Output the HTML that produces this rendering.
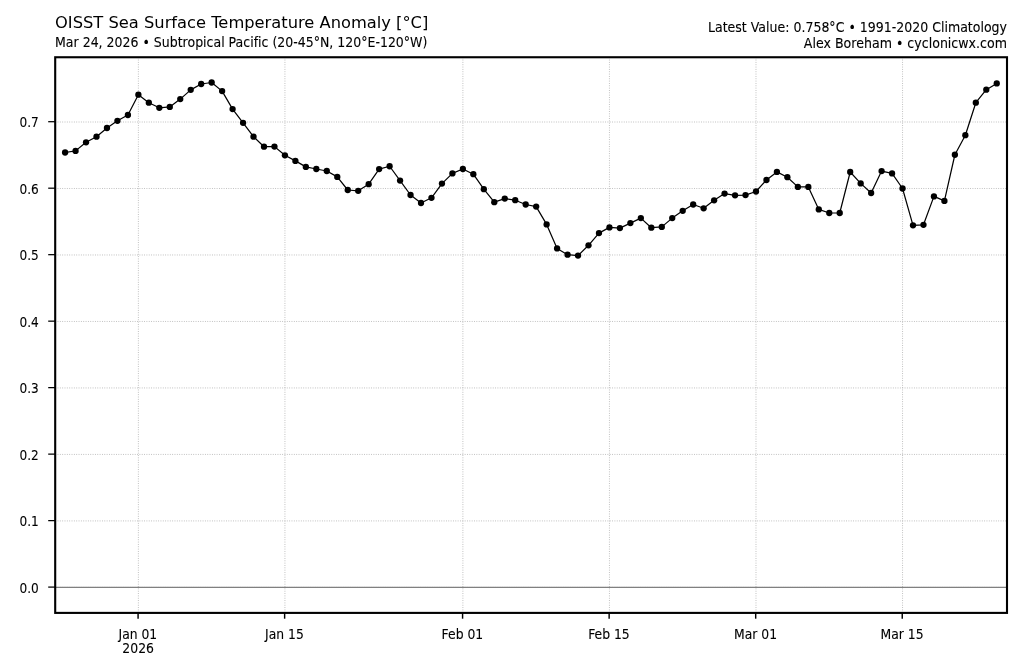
<!DOCTYPE html>
<html lang="en"><head><meta charset="utf-8"><title>OISST Sea Surface Temperature Anomaly</title>
<style>html,body{margin:0;padding:0;background:#fff;}svg{display:block;}text{font-family:"DejaVu Sans","Liberation Sans",sans-serif;fill:#000;font-variant-ligatures:none;}</style></head><body>
<svg width="1024" height="661" viewBox="0 0 1024 661">
<rect x="0" y="0" width="1024" height="661" fill="#fff"/>
<g stroke="#b0b0b0" stroke-width="0.88" stroke-dasharray="0.88 1.46" fill="none">
<line x1="138.38" y1="57.25" x2="138.38" y2="612.9"/>
<line x1="284.93" y1="57.25" x2="284.93" y2="612.9"/>
<line x1="462.88" y1="57.25" x2="462.88" y2="612.9"/>
<line x1="609.44" y1="57.25" x2="609.44" y2="612.9"/>
<line x1="755.99" y1="57.25" x2="755.99" y2="612.9"/>
<line x1="902.54" y1="57.25" x2="902.54" y2="612.9"/>
<line x1="55.2" y1="587.40" x2="1007.0" y2="587.40"/>
<line x1="55.2" y1="520.91" x2="1007.0" y2="520.91"/>
<line x1="55.2" y1="454.43" x2="1007.0" y2="454.43"/>
<line x1="55.2" y1="387.94" x2="1007.0" y2="387.94"/>
<line x1="55.2" y1="321.46" x2="1007.0" y2="321.46"/>
<line x1="55.2" y1="254.97" x2="1007.0" y2="254.97"/>
<line x1="55.2" y1="188.49" x2="1007.0" y2="188.49"/>
<line x1="55.2" y1="122.00" x2="1007.0" y2="122.00"/>
</g>
<line x1="55.2" y1="587.40" x2="1007.0" y2="587.40" stroke="#808080" stroke-width="1.1"/>
<polyline points="65.10,152.50 75.57,150.90 86.04,142.30 96.50,136.70 106.97,128.00 117.44,120.80 127.91,115.00 138.38,94.70 148.84,102.70 159.31,107.80 169.78,106.90 180.25,99.10 190.72,89.85 201.18,84.00 211.65,82.50 222.12,91.10 232.59,109.10 243.06,122.80 253.52,136.70 263.99,146.70 274.46,146.60 284.93,155.30 295.40,160.90 305.86,166.90 316.33,169.00 326.80,171.00 337.27,176.90 347.74,190.00 358.20,190.80 368.67,184.20 379.14,169.10 389.61,166.25 400.08,180.60 410.54,195.00 421.01,203.00 431.48,197.80 441.95,183.60 452.42,173.40 462.88,169.00 473.35,174.20 483.82,189.20 494.29,202.20 504.76,198.60 515.22,200.20 525.69,204.50 536.16,206.60 546.63,224.40 557.10,248.40 567.56,254.70 578.03,255.60 588.50,245.30 598.97,233.10 609.44,227.40 619.90,228.10 630.37,223.10 640.84,218.10 651.31,227.70 661.78,226.90 672.24,218.10 682.71,210.80 693.18,204.50 703.65,208.30 714.12,200.30 724.58,193.60 735.05,195.30 745.52,195.10 755.99,191.50 766.46,180.00 776.92,171.90 787.39,177.20 797.86,186.90 808.33,186.90 818.80,209.40 829.26,213.00 839.73,213.00 850.20,172.00 860.67,183.40 871.14,193.00 881.60,171.10 892.07,173.40 902.54,188.50 913.01,225.30 923.48,224.80 933.94,196.40 944.41,200.90 954.88,154.75 965.35,135.20 975.82,102.70 986.28,89.70 996.75,83.40" fill="none" stroke="#000" stroke-width="1.22" stroke-linejoin="round"/>
<g fill="#000">
<circle cx="65.10" cy="152.50" r="3.15"/>
<circle cx="75.57" cy="150.90" r="3.15"/>
<circle cx="86.04" cy="142.30" r="3.15"/>
<circle cx="96.50" cy="136.70" r="3.15"/>
<circle cx="106.97" cy="128.00" r="3.15"/>
<circle cx="117.44" cy="120.80" r="3.15"/>
<circle cx="127.91" cy="115.00" r="3.15"/>
<circle cx="138.38" cy="94.70" r="3.15"/>
<circle cx="148.84" cy="102.70" r="3.15"/>
<circle cx="159.31" cy="107.80" r="3.15"/>
<circle cx="169.78" cy="106.90" r="3.15"/>
<circle cx="180.25" cy="99.10" r="3.15"/>
<circle cx="190.72" cy="89.85" r="3.15"/>
<circle cx="201.18" cy="84.00" r="3.15"/>
<circle cx="211.65" cy="82.50" r="3.15"/>
<circle cx="222.12" cy="91.10" r="3.15"/>
<circle cx="232.59" cy="109.10" r="3.15"/>
<circle cx="243.06" cy="122.80" r="3.15"/>
<circle cx="253.52" cy="136.70" r="3.15"/>
<circle cx="263.99" cy="146.70" r="3.15"/>
<circle cx="274.46" cy="146.60" r="3.15"/>
<circle cx="284.93" cy="155.30" r="3.15"/>
<circle cx="295.40" cy="160.90" r="3.15"/>
<circle cx="305.86" cy="166.90" r="3.15"/>
<circle cx="316.33" cy="169.00" r="3.15"/>
<circle cx="326.80" cy="171.00" r="3.15"/>
<circle cx="337.27" cy="176.90" r="3.15"/>
<circle cx="347.74" cy="190.00" r="3.15"/>
<circle cx="358.20" cy="190.80" r="3.15"/>
<circle cx="368.67" cy="184.20" r="3.15"/>
<circle cx="379.14" cy="169.10" r="3.15"/>
<circle cx="389.61" cy="166.25" r="3.15"/>
<circle cx="400.08" cy="180.60" r="3.15"/>
<circle cx="410.54" cy="195.00" r="3.15"/>
<circle cx="421.01" cy="203.00" r="3.15"/>
<circle cx="431.48" cy="197.80" r="3.15"/>
<circle cx="441.95" cy="183.60" r="3.15"/>
<circle cx="452.42" cy="173.40" r="3.15"/>
<circle cx="462.88" cy="169.00" r="3.15"/>
<circle cx="473.35" cy="174.20" r="3.15"/>
<circle cx="483.82" cy="189.20" r="3.15"/>
<circle cx="494.29" cy="202.20" r="3.15"/>
<circle cx="504.76" cy="198.60" r="3.15"/>
<circle cx="515.22" cy="200.20" r="3.15"/>
<circle cx="525.69" cy="204.50" r="3.15"/>
<circle cx="536.16" cy="206.60" r="3.15"/>
<circle cx="546.63" cy="224.40" r="3.15"/>
<circle cx="557.10" cy="248.40" r="3.15"/>
<circle cx="567.56" cy="254.70" r="3.15"/>
<circle cx="578.03" cy="255.60" r="3.15"/>
<circle cx="588.50" cy="245.30" r="3.15"/>
<circle cx="598.97" cy="233.10" r="3.15"/>
<circle cx="609.44" cy="227.40" r="3.15"/>
<circle cx="619.90" cy="228.10" r="3.15"/>
<circle cx="630.37" cy="223.10" r="3.15"/>
<circle cx="640.84" cy="218.10" r="3.15"/>
<circle cx="651.31" cy="227.70" r="3.15"/>
<circle cx="661.78" cy="226.90" r="3.15"/>
<circle cx="672.24" cy="218.10" r="3.15"/>
<circle cx="682.71" cy="210.80" r="3.15"/>
<circle cx="693.18" cy="204.50" r="3.15"/>
<circle cx="703.65" cy="208.30" r="3.15"/>
<circle cx="714.12" cy="200.30" r="3.15"/>
<circle cx="724.58" cy="193.60" r="3.15"/>
<circle cx="735.05" cy="195.30" r="3.15"/>
<circle cx="745.52" cy="195.10" r="3.15"/>
<circle cx="755.99" cy="191.50" r="3.15"/>
<circle cx="766.46" cy="180.00" r="3.15"/>
<circle cx="776.92" cy="171.90" r="3.15"/>
<circle cx="787.39" cy="177.20" r="3.15"/>
<circle cx="797.86" cy="186.90" r="3.15"/>
<circle cx="808.33" cy="186.90" r="3.15"/>
<circle cx="818.80" cy="209.40" r="3.15"/>
<circle cx="829.26" cy="213.00" r="3.15"/>
<circle cx="839.73" cy="213.00" r="3.15"/>
<circle cx="850.20" cy="172.00" r="3.15"/>
<circle cx="860.67" cy="183.40" r="3.15"/>
<circle cx="871.14" cy="193.00" r="3.15"/>
<circle cx="881.60" cy="171.10" r="3.15"/>
<circle cx="892.07" cy="173.40" r="3.15"/>
<circle cx="902.54" cy="188.50" r="3.15"/>
<circle cx="913.01" cy="225.30" r="3.15"/>
<circle cx="923.48" cy="224.80" r="3.15"/>
<circle cx="933.94" cy="196.40" r="3.15"/>
<circle cx="944.41" cy="200.90" r="3.15"/>
<circle cx="954.88" cy="154.75" r="3.15"/>
<circle cx="965.35" cy="135.20" r="3.15"/>
<circle cx="975.82" cy="102.70" r="3.15"/>
<circle cx="986.28" cy="89.70" r="3.15"/>
<circle cx="996.75" cy="83.40" r="3.15"/>
</g>
<g stroke="#000" stroke-width="1.45">
<line x1="138.08" y1="612.9" x2="138.08" y2="618.6999999999999"/>
<line x1="284.63" y1="612.9" x2="284.63" y2="618.6999999999999"/>
<line x1="462.58" y1="612.9" x2="462.58" y2="618.6999999999999"/>
<line x1="609.14" y1="612.9" x2="609.14" y2="618.6999999999999"/>
<line x1="755.69" y1="612.9" x2="755.69" y2="618.6999999999999"/>
<line x1="902.24" y1="612.9" x2="902.24" y2="618.6999999999999"/>
</g><g stroke="#000" stroke-width="1.25">
<line x1="55.2" y1="587.10" x2="48.2" y2="587.10"/>
<line x1="55.2" y1="520.62" x2="48.2" y2="520.62"/>
<line x1="55.2" y1="454.13" x2="48.2" y2="454.13"/>
<line x1="55.2" y1="387.64" x2="48.2" y2="387.64"/>
<line x1="55.2" y1="321.16" x2="48.2" y2="321.16"/>
<line x1="55.2" y1="254.67" x2="48.2" y2="254.67"/>
<line x1="55.2" y1="188.19" x2="48.2" y2="188.19"/>
<line x1="55.2" y1="121.70" x2="48.2" y2="121.70"/>
</g>
<rect x="55.2" y="57.25" width="951.8" height="555.65" fill="none" stroke="#000" stroke-width="2.1"/>
<text x="137.88" y="639.00" text-anchor="middle" font-size="13.2px" stroke="#000" stroke-width="0.1" textLength="38.70" lengthAdjust="spacingAndGlyphs">Jan 01</text>
<text x="138.18" y="653.00" text-anchor="middle" font-size="13.2px" stroke="#000" stroke-width="0.1" textLength="31.64" lengthAdjust="spacingAndGlyphs">2026</text>
<text x="284.43" y="639.00" text-anchor="middle" font-size="13.2px" stroke="#000" stroke-width="0.1" textLength="38.70" lengthAdjust="spacingAndGlyphs">Jan 15</text>
<text x="462.38" y="639.00" text-anchor="middle" font-size="13.2px" stroke="#000" stroke-width="0.1" textLength="41.58" lengthAdjust="spacingAndGlyphs">Feb 01</text>
<text x="608.94" y="639.00" text-anchor="middle" font-size="13.2px" stroke="#000" stroke-width="0.1" textLength="41.58" lengthAdjust="spacingAndGlyphs">Feb 15</text>
<text x="755.49" y="639.00" text-anchor="middle" font-size="13.2px" stroke="#000" stroke-width="0.1" textLength="43.04" lengthAdjust="spacingAndGlyphs">Mar 01</text>
<text x="902.04" y="639.00" text-anchor="middle" font-size="13.2px" stroke="#000" stroke-width="0.1" textLength="43.04" lengthAdjust="spacingAndGlyphs">Mar 15</text>
<text x="38.75" y="593.00" text-anchor="end" font-size="13.2px" stroke="#000" stroke-width="0.1" textLength="19.30" lengthAdjust="spacingAndGlyphs">0.0</text>
<text x="38.75" y="526.00" text-anchor="end" font-size="13.2px" stroke="#000" stroke-width="0.1" textLength="19.30" lengthAdjust="spacingAndGlyphs">0.1</text>
<text x="38.75" y="460.00" text-anchor="end" font-size="13.2px" stroke="#000" stroke-width="0.1" textLength="19.30" lengthAdjust="spacingAndGlyphs">0.2</text>
<text x="38.75" y="393.00" text-anchor="end" font-size="13.2px" stroke="#000" stroke-width="0.1" textLength="19.30" lengthAdjust="spacingAndGlyphs">0.3</text>
<text x="38.75" y="327.00" text-anchor="end" font-size="13.2px" stroke="#000" stroke-width="0.1" textLength="19.30" lengthAdjust="spacingAndGlyphs">0.4</text>
<text x="38.75" y="260.00" text-anchor="end" font-size="13.2px" stroke="#000" stroke-width="0.1" textLength="19.30" lengthAdjust="spacingAndGlyphs">0.5</text>
<text x="38.75" y="194.00" text-anchor="end" font-size="13.2px" stroke="#000" stroke-width="0.1" textLength="19.30" lengthAdjust="spacingAndGlyphs">0.6</text>
<text x="38.75" y="127.00" text-anchor="end" font-size="13.2px" stroke="#000" stroke-width="0.1" textLength="19.30" lengthAdjust="spacingAndGlyphs">0.7</text>
<text x="55.05" y="28" font-size="16.3px" textLength="373.3" lengthAdjust="spacingAndGlyphs">OISST Sea Surface Temperature Anomaly [°C]</text>
<text x="55.05" y="47.00" text-anchor="start" font-size="13.2px" stroke="#000" stroke-width="0.1" textLength="372.34" lengthAdjust="spacingAndGlyphs">Mar 24, 2026 • Subtropical Pacific (20-45°N, 120°E-120°W)</text>
<text x="1007.00" y="32.00" text-anchor="end" font-size="13.2px" stroke="#000" stroke-width="0.1" textLength="299.01" lengthAdjust="spacingAndGlyphs">Latest Value: 0.758°C • 1991-2020 Climatology</text>
<text x="1007.00" y="48.00" text-anchor="end" font-size="13.2px" stroke="#000" stroke-width="0.1" textLength="203.16" lengthAdjust="spacingAndGlyphs">Alex Boreham • cyclonicwx.com</text>
</svg></body></html>
